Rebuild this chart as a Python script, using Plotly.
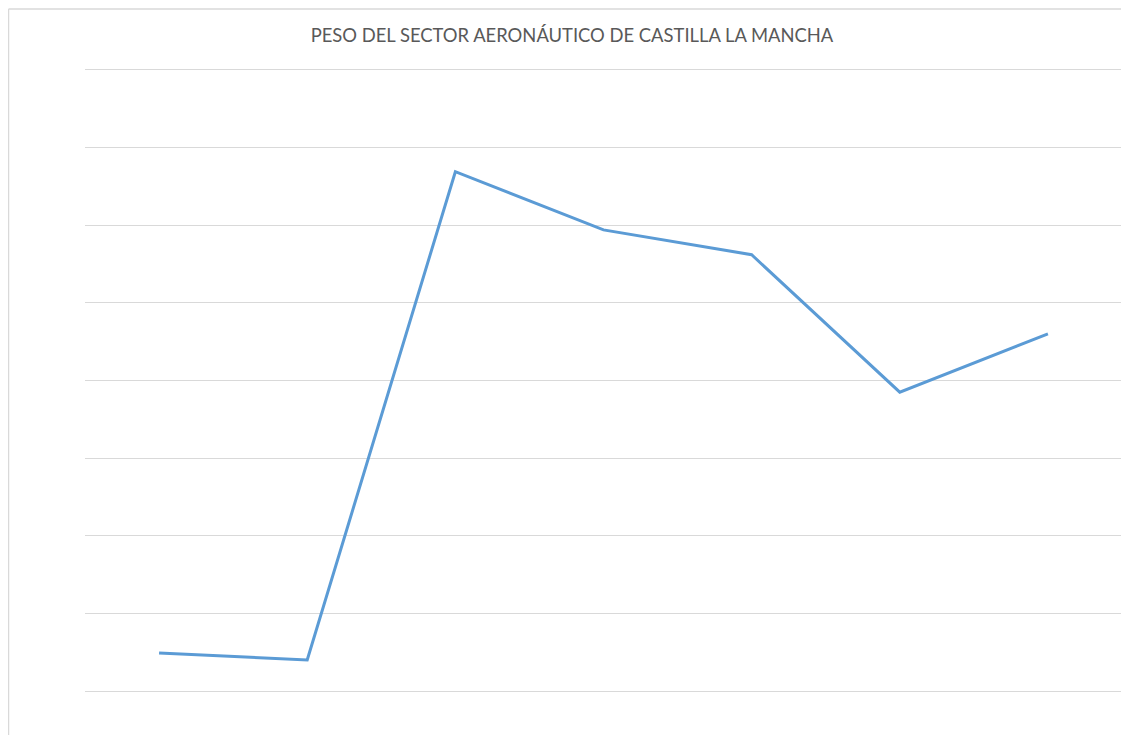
import plotly.graph_objects as go

categories = ["1", "2", "3", "4", "5", "6", "7"]
values = [0.49, 0.40, 6.69, 5.94, 5.62, 3.85, 4.60]
y_ticks = [0, 1, 2, 3, 4, 5, 6, 7, 8]

# page body has an 8px margin, so figure coords = screen coords - 8
W, H = 1121, 727
L, R, T, B = 77, 7, 62, 44
pw, ph = W - L - R, H - T - B

fig = go.Figure()
fig.add_trace(go.Scatter(
    x=categories, y=values, mode="lines",
    line=dict(color="#5B9BD5", width=3),
    hoverinfo="x+y",
))

fig.update_layout(
    width=W, height=H,
    margin=dict(l=L, r=R, t=T, b=B),
    paper_bgcolor="white", plot_bgcolor="white",
    showlegend=False,
    title=dict(
        text="PESO DEL SECTOR AERONÁUTICO DE CASTILLA LA MANCHA",
        x=564 / W, xanchor="center", xref="container",
        y=1 - 28 / H, yanchor="middle",
        font=dict(family="Lato", size=18.4, color="#595959"),
    ),
    xaxis=dict(showgrid=False, showticklabels=False,
               showline=True, mirror=True, linecolor="#D9D9D9", linewidth=1,
               zeroline=False, ticks="", range=[-0.5, 6.5]),
    yaxis=dict(range=[0, 8], tickvals=y_ticks, showticklabels=False,
               showgrid=True, gridcolor="#D9D9D9", gridwidth=1,
               zeroline=True, zerolinecolor="#D9D9D9", zerolinewidth=1,
               showline=False, ticks=""),
    shapes=[
        dict(type="line", xref="paper", yref="paper",
             x0=(0.5 - L) / pw, x1=(W - L) / pw + 0.01,
             y0=1 + (T - 1) / ph, y1=1 + (T - 1) / ph,
             line=dict(color="#D9D9D9", width=1.5)),
        dict(type="line", xref="paper", yref="paper",
             x0=(0.5 - L) / pw, x1=(0.5 - L) / pw,
             y0=1 + (T - 1) / ph, y1=-(B + 5) / ph,
             line=dict(color="#D9D9D9", width=1.5)),
    ],
)

fig.write_html("out.html")
